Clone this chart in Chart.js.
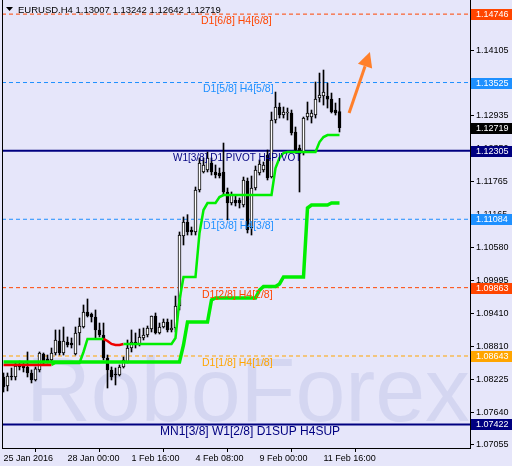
<!DOCTYPE html>
<html lang="en">
<head>
  <meta charset="UTF-8">
  <title>EURUSD.H4</title>
  <script src="https://cdn.jsdelivr.net/npm/chart.js"></script>
  <style>
    html, body { margin: 0; padding: 0; background: #E6E6FA; }
    canvas { display: block; }
  </style>
</head>
<body>
  <canvas id="chart" width="512" height="466"></canvas>

  <script>
    // H4 bars, oldest first (25 Jan 2016 .. 12 Feb 2016)
    const opens = [
      1.08269, 1.08108, 1.08287, 1.08269, 1.08465, 1.08483, 1.08447, 1.08340, 1.08215, 1.08394,
      1.08679, 1.08590, 1.08572, 1.08697, 1.08911, 1.08697, 1.08893, 1.08876, 1.08679, 1.09054,
      1.09161, 1.09429, 1.09393, 1.09340, 1.09108, 1.09018, 1.08608, 1.08394, 1.08322, 1.08304,
      1.08447, 1.08536, 1.08786, 1.08893, 1.08858, 1.08965, 1.09018, 1.09125, 1.09357, 1.09054,
      1.09161, 1.09250, 1.09108, 1.09143, 1.09536, 1.10785, 1.11035, 1.10893, 1.10857, 1.11606,
      1.11928, 1.11963, 1.12088, 1.11928, 1.11910, 1.11928, 1.11571, 1.11374, 1.11428, 1.11428,
      1.11339, 1.11767, 1.10928, 1.11642, 1.11910, 1.11963, 1.12231, 1.11838, 1.12856, 1.13088,
      1.12945, 1.12981, 1.12981, 1.12641, 1.12356, 1.12267, 1.12909, 1.12909, 1.12945, 1.13248,
      1.13284, 1.13284, 1.13230, 1.13034, 1.13007
    ];
    const highs = [
      1.08340, 1.08340, 1.08429, 1.08519, 1.08554, 1.08536, 1.08715, 1.08394, 1.08447, 1.08715,
      1.08697, 1.08661, 1.08786, 1.09108, 1.09108, 1.09161, 1.08983, 1.08965, 1.09161, 1.09322,
      1.09554, 1.09661, 1.09411, 1.09465, 1.09232, 1.09232, 1.08661, 1.08447, 1.08429, 1.08483,
      1.08626, 1.08929, 1.09108, 1.09054, 1.09125, 1.09143, 1.09179, 1.09357, 1.09411, 1.09232,
      1.09304, 1.09304, 1.09286, 1.09714, 1.10857, 1.11125, 1.11166, 1.10946, 1.11660, 1.12178,
      1.12178, 1.12285, 1.12178, 1.12053, 1.11999, 1.12445, 1.11642, 1.11571, 1.11517, 1.11464,
      1.11838, 1.11821, 1.11856, 1.12035, 1.12142, 1.12106, 1.12320, 1.12998, 1.13355, 1.13159,
      1.13088, 1.13070, 1.13034, 1.12731, 1.12409, 1.12909, 1.13177, 1.13034, 1.13534, 1.13694,
      1.13748, 1.13516, 1.13337, 1.13159, 1.13242
    ];
    const lows = [
      1.08001, 1.08019, 1.08215, 1.08215, 1.08394, 1.08358, 1.08269, 1.08162, 1.08197, 1.08358,
      1.08483, 1.08519, 1.08536, 1.08661, 1.08661, 1.08661, 1.08804, 1.08786, 1.08661, 1.08840,
      1.09143, 1.09340, 1.09250, 1.08965, 1.08983, 1.08572, 1.08072, 1.08215, 1.08126, 1.08287,
      1.08429, 1.08519, 1.08715, 1.08786, 1.08822, 1.08929, 1.08983, 1.09072, 1.09036, 1.09036,
      1.09143, 1.09072, 1.09072, 1.09072, 1.09465, 1.10625, 1.10803, 1.10803, 1.10803, 1.11571,
      1.11910, 1.11928, 1.11874, 1.11821, 1.11821, 1.11517, 1.11074, 1.11339, 1.11321, 1.11285,
      1.11303, 1.10839, 1.10803, 1.11606, 1.11874, 1.11928, 1.11785, 1.11821, 1.12802, 1.12891,
      1.12891, 1.12856, 1.12588, 1.12267, 1.11571, 1.12231, 1.12856, 1.12802, 1.12891, 1.13177,
      1.13123, 1.13070, 1.12981, 1.12945, 1.12642
    ];
    const closes = [
      1.08090, 1.08287, 1.08269, 1.08465, 1.08447, 1.08429, 1.08340, 1.08215, 1.08412, 1.08697,
      1.08519, 1.08536, 1.08697, 1.08929, 1.08697, 1.08911, 1.08840, 1.08840, 1.09054, 1.09179,
      1.09429, 1.09357, 1.09340, 1.09108, 1.09018, 1.08608, 1.08394, 1.08269, 1.08304, 1.08447,
      1.08572, 1.08786, 1.08893, 1.08840, 1.08983, 1.09018, 1.09143, 1.09357, 1.09054, 1.09161,
      1.09250, 1.09108, 1.09143, 1.09536, 1.10803, 1.11035, 1.10857, 1.10857, 1.11606, 1.12088,
      1.12053, 1.12178, 1.11928, 1.11874, 1.11856, 1.11571, 1.11374, 1.11517, 1.11374, 1.11374,
      1.11785, 1.10893, 1.11642, 1.11963, 1.12070, 1.12053, 1.11821, 1.12856, 1.13088, 1.12945,
      1.12998, 1.12998, 1.12624, 1.12320, 1.12267, 1.12891, 1.12981, 1.12981, 1.13230, 1.13302,
      1.13355, 1.13230, 1.12998, 1.12981, 1.12719
    ];

    // trend lines of the indicator, one value per bar
    const fastLine = [
      1.08483, 1.08483, 1.08483, 1.08483, 1.08483, 1.08483, 1.08483, 1.08483, 1.08483, 1.08483,
      1.08483, 1.08483, 1.08483, 1.08519, 1.08519, 1.08519, 1.08519, 1.08519, 1.08519, 1.08519,
      1.08715, 1.08947, 1.08947, 1.08947, 1.08947, 1.08947, 1.08911, 1.08858, 1.08840, 1.08840,
      1.08858, 1.08858, 1.08858, 1.08858, 1.08858, 1.08858, 1.08858, 1.08858, 1.08858, 1.08858,
      1.08858, 1.08858, 1.08858, 1.08965, 1.09643, 1.10054, 1.10054, 1.10054, 1.10054, 1.10839,
      1.11249, 1.11374, 1.11374, 1.11374, 1.11481, 1.11517, 1.11517, 1.11517, 1.11517, 1.11517,
      1.11517, 1.11517, 1.11517, 1.11517, 1.11517, 1.11517, 1.11517, 1.11517, 1.11999, 1.12178,
      1.12267, 1.12285, 1.12285, 1.12285, 1.12285, 1.12285, 1.12285, 1.12285, 1.12285, 1.12463,
      1.12552, 1.12588, 1.12588, 1.12588, 1.12588
    ];
    const slowLine = [
      1.08536, 1.08536, 1.08536, 1.08536, 1.08536, 1.08536, 1.08536, 1.08536, 1.08536, 1.08536,
      1.08536, 1.08536, 1.08536, 1.08536, 1.08536, 1.08536, 1.08536, 1.08536, 1.08536, 1.08536,
      1.08536, 1.08536, 1.08536, 1.08536, 1.08536, 1.08536, 1.08536, 1.08536, 1.08536, 1.08536,
      1.08536, 1.08536, 1.08536, 1.08536, 1.08536, 1.08536, 1.08536, 1.08536, 1.08536, 1.08536,
      1.08536, 1.08536, 1.08536, 1.08536, 1.08536, 1.08840, 1.09250, 1.09250, 1.09250, 1.09250,
      1.09250, 1.09250, 1.09643, 1.09679, 1.09679, 1.09679, 1.09679, 1.09679, 1.09679, 1.09679,
      1.09679, 1.09679, 1.09679, 1.09679, 1.09820, 1.09884, 1.09884, 1.09884, 1.09884, 1.09929,
      1.10054, 1.10054, 1.10054, 1.10054, 1.10054, 1.10054, 1.11285, 1.11339, 1.11339, 1.11339,
      1.11339, 1.11339, 1.11374, 1.11374, 1.11374
    ];

    // Murrey math levels
    const levelValues = [1.14746, 1.13525, 1.12305, 1.11084, 1.09863, 1.08643, 1.07422];
    const levelNames = [
      'D1[6/8] H4[6/8]', 'D1[5/8] H4[5/8]', 'W1[3/8] D1 PIVOT H4PIVOT', 'D1[3/8] H4[3/8]',
      'D1[2/8] H4[2/8]', 'D1[1/8] H4[1/8]', 'MN1[3/8] W1[2/8] D1SUP H4SUP'
    ];

    const priceTicks = [1.07055, 1.07640, 1.08225, 1.08810, 1.09410, 1.09995, 1.10580,
                        1.11165, 1.11765, 1.12350, 1.12935, 1.13520, 1.14105, 1.14690];
    const timeTicks = [0, 16, 32, 48, 64, 80];
    const timeLabels = ['25 Jan 2016', '28 Jan 00:00', '1 Feb 16:00', '4 Feb 08:00', '9 Feb 00:00', '11 Feb 16:00'];

    // forecast arrow: [bar, price] from -> to
    const arrowFrom = [86.4, 1.12981];
    const arrowTo = [91.6, 1.14070];

    const X_MIN = -0.375, X_MAX = 116.625;
    const FONT = '"Liberation Sans", Arial, sans-serif';

    const levelStyle = [
      { color: '#FF4500', width: 1, dash: [4, 3], left: 201, size: 10.5 },
      { color: '#1E90FF', width: 1, dash: [4, 3], left: 203, size: 10.5 },
      { color: '#000080', width: 2, dash: [],     left: 173, size: 10 },
      { color: '#1E90FF', width: 1, dash: [4, 3], left: 203, size: 10.5 },
      { color: '#FF4500', width: 1, dash: [4, 3], left: 202, size: 10.5 },
      { color: '#FFA500', width: 1, dash: [4, 3], left: 202, size: 10.5 },
      { color: '#000080', width: 2, dash: [],     left: 160, size: 12 }
    ];

    const bars = opens.map((o, i) => i);
    const wickData = bars.map(i => ({ x: i, y: [lows[i], highs[i]] }));
    const bodyData = bars.map(i => ({ x: i, y: [opens[i], closes[i]] }));
    const bodyFill = bars.map(i => closes[i] > opens[i] ? '#FFFFFF' : '#000000');

    const levelSets = levelValues.map((v, k) => ({
      type: 'line',
      data: [{ x: X_MIN, y: v }, { x: X_MAX, y: v }],
      borderColor: levelStyle[k].color,
      borderWidth: levelStyle[k].width,
      borderDash: levelStyle[k].dash,
      pointRadius: 0,
      order: 10
    }));

    const isRed = i => i < 12 || (i >= 25 && i < 30);

    const overlay = {
      id: 'overlay',
      beforeDatasetsDraw(chart) {
        const { ctx, chartArea: a } = chart;
        ctx.save();
        ctx.beginPath();
        ctx.rect(a.left, a.top, a.right - a.left, a.bottom - a.top);
        ctx.clip();
        ctx.fillStyle = 'rgba(150,160,210,0.22)';
        ctx.font = '90px ' + FONT;
        ctx.fillText('RoboForex', 26, 421, 444);
        ctx.restore();
      },
      afterDatasetsDraw(chart) {
        const { ctx } = chart;
        const xs = chart.scales.x, ys = chart.scales.y;
        ctx.save();
        ctx.textBaseline = 'middle';
        levelValues.forEach((v, k) => {
          ctx.font = levelStyle[k].size + 'px ' + FONT;
          ctx.fillStyle = levelStyle[k].color;
          ctx.fillText(levelNames[k], levelStyle[k].left, ys.getPixelForValue(v) + 7);
        });

        // arrow
        const x1 = xs.getPixelForValue(arrowFrom[0]), y1 = ys.getPixelForValue(arrowFrom[1]);
        const x2 = xs.getPixelForValue(arrowTo[0]), y2 = ys.getPixelForValue(arrowTo[1]);
        const ang = Math.atan2(y2 - y1, x2 - x1);
        const headLen = 15, headHalf = 7.5;
        const bx = x2 - headLen * Math.cos(ang), by = y2 - headLen * Math.sin(ang);
        ctx.strokeStyle = '#FF7F2A';
        ctx.fillStyle = '#FF7F2A';
        ctx.lineWidth = 3;
        ctx.beginPath();
        ctx.moveTo(x1, y1);
        ctx.lineTo(bx, by);
        ctx.stroke();
        ctx.beginPath();
        ctx.moveTo(x2, y2);
        ctx.lineTo(bx + headHalf * Math.sin(ang), by - headHalf * Math.cos(ang));
        ctx.lineTo(bx - headHalf * Math.sin(ang), by + headHalf * Math.cos(ang));
        ctx.closePath();
        ctx.fill();
        ctx.restore();
      },
      afterDraw(chart) {
        const { ctx, chartArea: a } = chart;
        const ys = chart.scales.y;
        ctx.save();
        // left frame
        ctx.strokeStyle = '#000';
        ctx.lineWidth = 1;
        ctx.beginPath();
        ctx.moveTo(a.left + 0.5, a.top);
        ctx.lineTo(a.left + 0.5, a.bottom + 0.5);
        ctx.stroke();

        // price boxes on the scale
        const boxes = levelValues.map((v, k) => [v, levelStyle[k].color]);
        boxes.push([closes[closes.length - 1], '#000000']);
        ctx.font = '9px ' + FONT;
        ctx.textBaseline = 'middle';
        boxes.forEach(([v, c]) => {
          const y = Math.round(ys.getPixelForValue(v));
          ctx.fillStyle = c;
          ctx.fillRect(a.right + 1, y - 5, 512 - a.right - 1, 11);
          ctx.fillStyle = '#FFFFFF';
          ctx.fillText(v.toFixed(5), a.right + 6, y + 0.5);
        });

        // title
        ctx.fillStyle = '#000';
        ctx.beginPath();
        ctx.moveTo(6, 7); ctx.lineTo(13, 7); ctx.lineTo(9.5, 11);
        ctx.closePath();
        ctx.fill();
        ctx.font = '9.5px ' + FONT;
        ctx.textBaseline = 'alphabetic';
        ctx.fillText('EURUSD.H4 ' + [opens, highs, lows, closes].map(s => s[s.length - 1].toFixed(5)).join(' '), 18, 13);
        ctx.restore();
      }
    };

    new Chart(document.getElementById('chart'), {
      type: 'bar',
      data: {
        datasets: [
          {
            type: 'line',
            data: bars.map(i => ({ x: i, y: fastLine[i] })),
            borderColor: '#00EE00',
            borderWidth: 2.5,
            pointRadius: 0,
            segment: { borderColor: c => isRed(c.p0DataIndex) ? '#EE0000' : '#00EE00' },
            order: 1
          },
          {
            type: 'line',
            data: bars.map(i => ({ x: i, y: slowLine[i] })),
            borderColor: '#00EE00',
            borderWidth: 3.5,
            pointRadius: 0,
            order: 2
          },
          {
            data: bodyData,
            backgroundColor: bodyFill,
            borderColor: '#000',
            borderWidth: 1,
            borderSkipped: false,
            barThickness: 3,
            minBarLength: 1,
            grouped: false,
            order: 4
          },
          {
            data: wickData,
            backgroundColor: '#000',
            borderWidth: 0,
            barThickness: 1,
            grouped: false,
            order: 5
          },
          ...levelSets
        ]
      },
      options: {
        responsive: false,
        animation: false,
        layout: { padding: { left: 2, top: 0, right: 0, bottom: 0 } },
        plugins: { legend: { display: false }, tooltip: { enabled: false } },
        scales: {
          x: {
            type: 'linear',
            min: X_MIN,
            max: X_MAX,
            offset: false,
            grid: { drawOnChartArea: false, drawTicks: true, tickLength: 4, color: '#000' },
            border: { display: true, color: '#000' },
            ticks: {
              autoSkip: false, maxRotation: 0, align: 'start', padding: 1,
              color: '#000', font: { family: FONT, size: 9 },
              callback: (v, i) => timeLabels[i]
            },
            afterBuildTicks: s => { s.ticks = timeTicks.map(v => ({ value: v })); },
            afterFit: s => { s.height = 18; s.paddingLeft = 0; s.paddingRight = 0; }
          },
          y: {
            position: 'right',
            min: 1.07001,
            max: 1.14998,
            grid: { drawOnChartArea: false, drawTicks: true, tickLength: 4, color: '#000' },
            border: { display: true, color: '#000' },
            ticks: {
              padding: 2, color: '#000', font: { family: FONT, size: 9 },
              callback: v => v.toFixed(5)
            },
            afterBuildTicks: s => { s.ticks = priceTicks.map(v => ({ value: v })); },
            afterFit: s => { s.width = 42; s.paddingTop = 0; s.paddingBottom = 0; }
          }
        }
      },
      plugins: [overlay]
    });
  </script>
</body>
</html>
